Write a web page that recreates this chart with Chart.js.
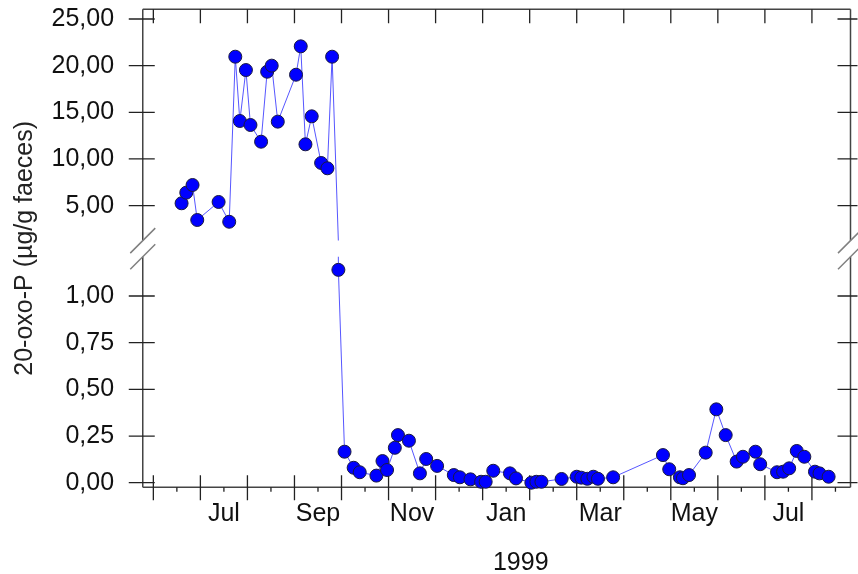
<!DOCTYPE html>
<html>
<head>
<meta charset="utf-8">
<script src="https://cdn.jsdelivr.net/npm/chart.js@4.4.1/dist/chart.umd.min.js"></script>
<style>
  html, body { margin: 0; padding: 0; background: #fff; }
  #wrap { width: 858px; height: 574px; position: relative; }
</style>
</head>
<body>
<div id="wrap"><canvas id="oxoChart"></canvas></div>
<script>
// sampling dates and 20-oxo-P concentrations (µg/g faeces)
const sampleDates = [
  '1998-06-19', '1998-06-22', '1998-06-26', '1998-06-29', '1998-07-13', '1998-07-20',
  '1998-07-24', '1998-07-27', '1998-07-31', '1998-08-03', '1998-08-10', '1998-08-14',
  '1998-08-17', '1998-08-21', '1998-09-02', '1998-09-05', '1998-09-08', '1998-09-12',
  '1998-09-18', '1998-09-22', '1998-09-25', '1998-09-29',
  '1998-10-03', '1998-10-09', '1998-10-13', '1998-10-24', '1998-10-28', '1998-10-31',
  '1998-11-05', '1998-11-07', '1998-11-14', '1998-11-21', '1998-11-25', '1998-12-02',
  '1998-12-13', '1998-12-17', '1998-12-24', '1998-12-31', '1999-01-03', '1999-01-08',
  '1999-01-19', '1999-01-23', '1999-02-02', '1999-02-05', '1999-02-08', '1999-02-20',
  '1999-03-01', '1999-03-04', '1999-03-08', '1999-03-12', '1999-03-15', '1999-03-25',
  '1999-04-26', '1999-04-30', '1999-05-07', '1999-05-09', '1999-05-13', '1999-05-24',
  '1999-05-31', '1999-06-06', '1999-06-13', '1999-06-17', '1999-06-25', '1999-06-28',
  '1999-07-09', '1999-07-13', '1999-07-17', '1999-07-22', '1999-07-27', '1999-08-03',
  '1999-08-06', '1999-08-12'
];
const oxoValues = [
  5.25, 6.39, 7.21, 3.46, 5.39, 3.27,
  20.96, 14.07, 19.53, 13.64, 11.85, 19.35,
  20.0, 14.0, 19.03, 22.07, 11.57, 14.57,
  9.57, 9.0, 20.96, 1.14,
  0.166, 0.08, 0.056, 0.038, 0.116, 0.068,
  0.187, 0.255, 0.225, 0.05, 0.127, 0.09,
  0.041, 0.029, 0.018, 0.005, 0.005, 0.064,
  0.05, 0.023, 0.0, 0.005, 0.005, 0.02,
  0.032, 0.027, 0.021, 0.032, 0.021, 0.029,
  0.148, 0.072, 0.029, 0.024, 0.041, 0.161,
  0.393, 0.255, 0.113, 0.139, 0.166, 0.099,
  0.056, 0.059, 0.077, 0.17, 0.139, 0.059,
  0.05, 0.032
];

// axis ticks
const upperTicks = [5, 10, 15, 20, 25];
const lowerTicks = [0, 0.25, 0.5, 0.75, 1];
const monthTicks = [0, 1, 2, 3, 4, 5, 6, 7, 8, 9, 10, 11, 12, 13, 14];   // 1st of each month from Jun 1998
const monthLabels = ['Jul', 'Sep', 'Nov', 'Jan', 'Mar', 'May', 'Jul'];
const monthLabelPos = [1.5, 3.5, 5.5, 7.5, 9.5, 11.5, 13.5];
const yearLabel = '1999';
const yTitle = '20-oxo-P (µg/g faeces)';

// where the y axis is cut
const BREAK_TOP = 1.25;   // lowest value shown on the upper part
const BREAK_BOT = 1.21;   // highest value shown on the lower part

// months since 1 Jun 1998, every month the same width
function monthPos(d) {
  const [y, m, day] = d.split('-').map(Number);
  const days = new Date(y, m, 0).getDate();
  return (y - 1998) * 12 + (m - 6) + (day - 1) / days;
}

const points = sampleDates.map((d, i) => ({ x: monthPos(d), y: oxoValues[i] }));

const FONT = '"Liberation Sans", Arial, sans-serif';
Chart.defaults.font.family = FONT;
Chart.defaults.font.size = 25;
Chart.defaults.color = '#111';

// chart.js reserves the tick padding twice; keep it once and drop the label overhang
const fitY = s => {
  s.width -= s.options.ticks.padding;
  s.paddingTop = 0; s.paddingBottom = 0;
};
const fitX = s => {
  s.height -= s.options.ticks.padding;
  s.paddingLeft = 0; s.paddingRight = 0;
};
const fmt = v => v.toFixed(2).replace('.', ',');

// each dataset only shows inside its own part of the broken axis
const breakClip = {
  id: 'breakClip',
  beforeDatasetDraw(chart, args) {
    const ds = chart.data.datasets[args.index];
    const s = chart.scales[ds.yAxisID];
    const { ctx, chartArea: a } = chart;
    const top = ds.yAxisID === 'yTop';
    const y1 = top ? a.top - 10 : s.getPixelForValue(BREAK_BOT);
    const y2 = top ? s.getPixelForValue(BREAK_TOP) : a.bottom + 10;
    ctx.save();
    ctx.beginPath();
    ctx.rect(a.left - 10, y1, a.right - a.left + 20, y2 - y1);
    ctx.clip();
  },
  afterDatasetDraw(chart) {
    chart.ctx.restore();
  }
};

// box, tick marks and break marks
const frame = {
  id: 'frame',
  beforeDatasetsDraw(chart) {
    const { ctx, chartArea: a, scales } = chart;
    const hi = scales.yTop.getPixelForValue(BREAK_TOP);
    const lo = scales.yBot.getPixelForValue(BREAK_BOT);
    ctx.save();
    ctx.lineCap = 'butt';

    ctx.strokeStyle = '#444';
    ctx.lineWidth = 1.5;
    ctx.beginPath();
    ctx.moveTo(a.left, a.top); ctx.lineTo(a.right, a.top);
    ctx.moveTo(a.left, a.bottom); ctx.lineTo(a.right, a.bottom);
    for (const x of [a.left, a.right]) {
      ctx.moveTo(x, a.top); ctx.lineTo(x, hi);
      ctx.moveTo(x, lo); ctx.lineTo(x, a.bottom);
    }
    ctx.stroke();

    ctx.strokeStyle = '#222';
    ctx.lineWidth = 1.3;
    ctx.beginPath();
    for (const id of ['yTop', 'yBot']) {
      const s = scales[id];
      s.ticks.forEach(t => {
        const y = s.getPixelForValue(t.value);
        ctx.moveTo(a.left - 14, y); ctx.lineTo(a.left + 12, y);
        ctx.moveTo(a.right - 13, y); ctx.lineTo(a.right + 7, y);
      });
    }
    const x = scales.x;
    monthTicks.forEach(m => {
      const px = x.getPixelForValue(m);
      ctx.moveTo(px, a.bottom - 12); ctx.lineTo(px, a.bottom + 13);
      ctx.moveTo(px, a.top); ctx.lineTo(px, a.top + 14);
    });
    [-1].concat(monthTicks).forEach(m => {
      const px = x.getPixelForValue(m + 0.5);
      if (px > a.left && px < a.right) {
        ctx.moveTo(px, a.bottom); ctx.lineTo(px, a.bottom + 4.5);
      }
    });
    ctx.stroke();

    ctx.strokeStyle = '#808080';
    ctx.lineWidth = 1.5;
    ctx.beginPath();
    for (const bx of [a.left, a.right]) {
      for (const by of [hi, lo]) {
        ctx.moveTo(bx - 12.5, by + 12.5);
        ctx.lineTo(bx + 12.5, by - 12.5);
      }
    }
    ctx.stroke();
    ctx.restore();
  },
  afterDraw(chart) {
    const { ctx, scales } = chart;
    ctx.save();
    ctx.font = '25px ' + FONT;
    ctx.fillStyle = '#111';
    ctx.textAlign = 'center';
    ctx.textBaseline = 'middle';
    ctx.fillText(yearLabel, scales.x.getPixelForValue(7.81), 563);
    ctx.restore();
  }
};

const lineStyle = {
  borderColor: 'rgba(30, 30, 255, 0.75)',
  borderWidth: 1,
  pointBackgroundColor: '#0000ff',
  pointBorderColor: '#1a1a40',
  pointBorderWidth: 1,
  pointHoverRadius: 0,
  tension: 0,
  clip: false
};

new Chart(document.getElementById('oxoChart'), {
  type: 'line',
  data: {
    datasets: [
      Object.assign({
        data: points,
        yAxisID: 'yTop',
        pointRadius: c => (c.raw && c.raw.y >= BREAK_TOP ? 6.5 : 0)
      }, lineStyle),
      Object.assign({
        data: points,
        yAxisID: 'yBot',
        pointRadius: c => (c.raw && c.raw.y <= BREAK_BOT ? 6.5 : 0)
      }, lineStyle)
    ]
  },
  options: {
    responsive: true,
    maintainAspectRatio: false,
    animation: false,
    events: [],
    layout: { padding: { left: 4, top: 9.3, right: 7.3, bottom: 44.7 } },
    plugins: { legend: { display: false }, tooltip: { enabled: false } },
    scales: {
      x: {
        type: 'linear',
        min: -0.225,
        max: 14.82,
        grid: { display: false, drawTicks: false },
        border: { display: false },
        afterBuildTicks: s => { s.ticks = monthLabelPos.map(v => ({ value: v })); },
        afterFit: fitX,
        ticks: {
          padding: 12,
          maxRotation: 0,
          autoSkip: false,
          callback: (v, i) => monthLabels[i]
        }
      },
      yLabel: {
        type: 'linear',
        position: 'left',
        weight: 10,
        grid: { display: false, drawTicks: false },
        border: { display: false },
        ticks: { display: false },
        title: {
          display: true,
          text: yTitle,
          color: '#222',
          padding: { top: 6, bottom: 11.5 }
        }
      },
      yTop: {
        type: 'linear',
        position: 'left',
        stack: 'left',
        stackWeight: 239.7,
        weight: 2,
        min: 0.35,
        max: 26.04,
        grid: { display: false, drawTicks: false },
        border: { display: false },
        afterBuildTicks: s => { s.ticks = upperTicks.map(v => ({ value: v })); },
        afterFit: fitY,
        ticks: { padding: 28.7, autoSkip: false, callback: fmt }
      },
      yBot: {
        type: 'linear',
        position: 'left',
        stack: 'left',
        stackWeight: 238.3,
        weight: 1,
        min: -0.0246,
        max: 1.2517,
        grid: { display: false, drawTicks: false },
        border: { display: false },
        afterBuildTicks: s => { s.ticks = lowerTicks.map(v => ({ value: v })); },
        afterFit: fitY,
        ticks: { padding: 28.7, autoSkip: false, callback: fmt }
      }
    }
  },
  plugins: [breakClip, frame]
});
</script>
</body>
</html>
